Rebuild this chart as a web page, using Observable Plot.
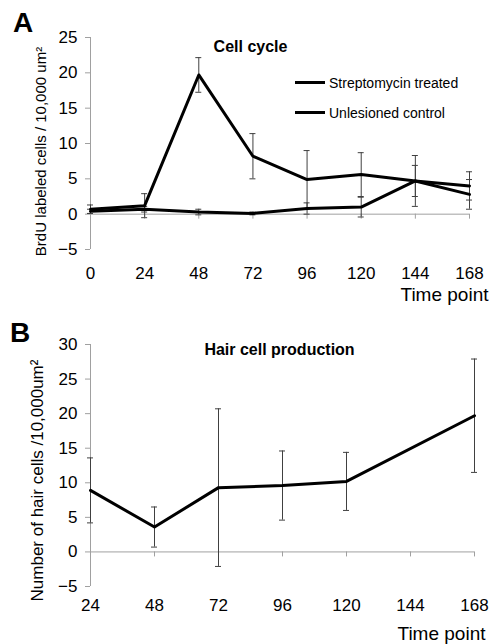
<!DOCTYPE html>
<html><head><meta charset="utf-8">
<script src="https://cdn.jsdelivr.net/npm/d3@7"></script>
<script src="https://cdn.jsdelivr.net/npm/@observablehq/plot@0.6"></script>
<style>
html,body{margin:0;padding:0;background:#fff;}
body{font-family:"Liberation Sans",Arial,sans-serif;color:#000;}
#wrap{position:relative;width:493px;height:644px;overflow:hidden;}
.panel{position:absolute;left:0;}
.letter{position:absolute;font-weight:bold;font-size:28px;line-height:28px;}
.legend{position:absolute;font-size:14px;line-height:14px;}
.legend .item{position:absolute;left:0;white-space:nowrap;}
.legend .sw{display:inline-block;width:30px;height:3px;background:#000;vertical-align:middle;margin-right:4px;position:relative;top:-1px;}
</style>
</head><body>
<div id="wrap">
  <div class="letter" style="left:13px;top:9px;">A</div>
  <div class="letter" style="left:10px;top:319px;">B</div>
</div>
<script>
// ---------- Data: panel A (Cell cycle) ----------
const timesA = [0, 24, 48, 72, 96, 120, 144, 168];
const strepMean = [0.7, 1.2, 19.7, 8.2, 4.9, 5.6, 4.7, 2.8];
const strepErr  = [0.6, 1.7, 2.45, 3.2, 4.1, 3.1, 3.6, 2.1];
const ctrlMean  = [0.4, 0.7, 0.3, 0.1, 0.8, 1.0, 4.7, 4.0];
const ctrlErr   = [0.3, 0.4, 0.4, 0.2, 0.8, 1.4, 2.2, 2.0];
const seriesNames = ["Streptomycin treated", "Unlesioned control"];
const xTicksA = [0, 24, 48, 72, 96, 120, 144, 168];
const yTicksA = [-5, 0, 5, 10, 15, 20, 25];
const titleA = "Cell cycle";
const yLabelA = "BrdU labeled cells / 10,000 um\u00B2";

// ---------- Data: panel B (Hair cell production) ----------
const timesB = [24, 48, 72, 96, 120, 168];
const hairMean = [8.9, 3.6, 9.3, 9.6, 10.2, 19.7];
const hairErr  = [4.7, 2.9, 11.4, 5.0, 4.2, 8.2];
const xTicksB = [24, 48, 72, 96, 120, 144, 168];
const yTicksB = [-5, 0, 5, 10, 15, 20, 25, 30];
const titleB = "Hair cell production";
const yLabelB = "Number of hair cells /10,000um\u00B2";
const xLabel = "Time point";

const FONT = "'Liberation Sans', Arial, sans-serif";
const AXIS = "#a0a0a0";
const ERR = "#404040";

const rowsA = [];
timesA.forEach((t, i) => {
  rowsA.push({series: seriesNames[0], t, v: strepMean[i], e: strepErr[i]});
  rowsA.push({series: seriesNames[1], t, v: ctrlMean[i], e: ctrlErr[i]});
});
const rowsB = timesB.map((t, i) => ({t, v: hairMean[i], e: hairErr[i]}));

function errMarks(rows) {
  return [
    Plot.ruleX(rows, {x: "t", y1: d => d.v - d.e, y2: d => d.v + d.e, stroke: ERR, strokeWidth: 1}),
    Plot.ruleY(rows, {y: d => d.v + d.e, x1: "t", x2: "t", insetLeft: -3, insetRight: -3, stroke: ERR, strokeWidth: 1}),
    Plot.ruleY(rows, {y: d => d.v - d.e, x1: "t", x2: "t", insetLeft: -3, insetRight: -3, stroke: ERR, strokeWidth: 1})
  ];
}

function axesMarks(xTicks, yTicks, yLabel, labelFont, labelDx, labelDy, xPad, xLabDx, xLabDy) {
  return [
    Plot.ruleX([xTicks[0]], {y1: yTicks[0], y2: yTicks[yTicks.length - 1], stroke: AXIS}),
    Plot.axisY(yTicks, {tickSize: 5, tickPadding: 8, stroke: AXIS, fill: "#000", label: null}),
    Plot.ruleY([0], {stroke: AXIS}),
    Plot.ruleX(xTicks, {x: d => d, y1: 0, y2: 0, insetBottom: -5, stroke: AXIS}),
    Plot.axisX(xTicks, {tickSize: 0, tickPadding: xPad, fill: "#000", label: null}),
    Plot.text([yLabel], {frameAnchor: "left", rotate: -90, textAnchor: "middle", lineAnchor: "middle",
      dx: labelDx, dy: labelDy, fontSize: labelFont, fill: "#000"}),
    Plot.text([xLabel], {frameAnchor: "bottom-right", textAnchor: "end", lineAnchor: "middle",
      dx: xLabDx, dy: xLabDy, fontSize: 19, fill: "#000"})
  ];
}

const plotA = Plot.plot({
  width: 493, height: 300,
  marginLeft: 90, marginRight: 24, marginTop: 37, marginBottom: 51,
  style: {fontFamily: FONT, fontSize: "17px", background: "transparent", color: "#000", overflow: "visible"},
  x: {domain: [0, 168]},
  y: {domain: [-5, 25]},
  marks: [
    ...axesMarks(xTicksA, yTicksA, yLabelA, 15, -49, 8, 17, 19, 45),
    ...errMarks(rowsA),
    Plot.line(rowsA, {x: "t", y: "v", z: "series", stroke: "#000", strokeWidth: 3}),
    Plot.text([titleA], {frameAnchor: "top-left", dx: 160, dy: 3, textAnchor: "middle", fontWeight: "bold", fontSize: 16, fill: "#000"})
  ]
});
plotA.classList.add("panel");
plotA.style.top = "0px";

const plotB = Plot.plot({
  width: 493, height: 344,
  marginLeft: 90, marginRight: 19, marginTop: 44, marginBottom: 58,
  style: {fontFamily: FONT, fontSize: "17px", background: "transparent", color: "#000", overflow: "visible"},
  x: {domain: [24, 168]},
  y: {domain: [-5, 30]},
  marks: [
    ...axesMarks(xTicksB, yTicksB, yLabelB, 17, -53, 15, 12, 11, 47),
    ...errMarks(rowsB),
    Plot.line(rowsB, {x: "t", y: "v", stroke: "#000", strokeWidth: 3}),
    Plot.text([titleB], {frameAnchor: "top-left", dx: 189, dy: -1, textAnchor: "middle", fontWeight: "bold", fontSize: 16, fill: "#000"})
  ]
});
plotB.classList.add("panel");
plotB.style.top = "300px";

const wrap = document.getElementById("wrap");
wrap.appendChild(plotA);
wrap.appendChild(plotB);

// legend for panel A
const legend = document.createElement("div");
legend.className = "legend";
legend.style.left = "295px";
legend.style.top = "0px";
const legendY = [82.5, 112.5];
seriesNames.forEach((name, i) => {
  const item = document.createElement("div");
  item.className = "item";
  item.style.top = (legendY[i] - 7) + "px";
  const sw = document.createElement("span");
  sw.className = "sw";
  item.appendChild(sw);
  item.appendChild(document.createTextNode(name));
  legend.appendChild(item);
});
wrap.appendChild(legend);
</script>
</body></html>
